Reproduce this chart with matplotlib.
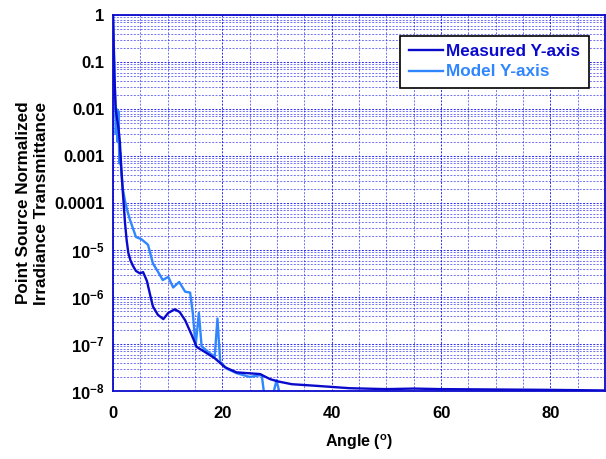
import matplotlib
matplotlib.use("Agg")
import matplotlib.pyplot as plt
import numpy as np
from matplotlib.ticker import FixedLocator, FixedFormatter, LogLocator

# --- data ---
meas_angle = [0, 0.25, 0.5, 0.75, 1.0, 1.25, 1.5, 1.75, 2.0, 2.2, 2.5, 2.8, 3.2, 3.7, 4.2,
              4.9, 5.5, 6.2, 6.8, 7.3, 8.2, 9.2, 10.1, 11.3, 12.2, 13.2, 14.4, 15.3,
              16.8, 18.6, 20.5, 22.6, 24.7, 26.9, 28.7, 30.2, 32.7, 37.3, 43.3, 50,
              55, 60, 70, 80, 90]
meas_val = [1, 0.05, 0.01, 0.006, 0.004, 0.002, 6e-4, 2e-4, 8e-5, 3.7e-5, 1.6e-5, 8.7e-6,
            6e-6, 4.5e-6, 3.6e-6, 3.2e-6, 3.4e-6, 2.2e-6, 1.1e-6, 6.3e-7, 4.2e-7, 3.4e-7,
            4.6e-7, 5.5e-7, 4.8e-7, 3.2e-7, 1.55e-7, 8.7e-8, 6.8e-8, 5.0e-8, 3.2e-8,
            2.5e-8, 2.4e-8, 2.3e-8, 1.8e-8, 1.6e-8, 1.4e-8, 1.29e-8, 1.15e-8, 1.1e-8,
            1.13e-8, 1.1e-8, 1.08e-8, 1.06e-8, 1.03e-8]

model_angle = [0, 0.3, 0.5, 0.7, 0.85, 1.0, 1.15, 1.3, 1.5, 1.8, 2.2, 2.6, 3.1, 3.6, 4.2,
               5.2, 6.4, 7.3, 8.2, 9.1, 10.1, 11.0, 12.1, 13.2, 14.1, 14.6, 15.1, 15.7,
               16.2, 17.4, 18.6, 19.1, 19.6, 20.8, 22.6, 25.0, 27.2, 27.9, 28.8, 29.9,
               31.0, 35, 45, 60, 75, 90]
model_val = [1, 0.05, 0.003, 0.01, 0.002, 0.009, 7e-4, 0.0012, 5e-4, 2e-4, 1.1e-4, 7e-5,
             4.4e-5, 3e-5, 1.9e-5, 1.7e-5, 1.3e-5, 5.2e-6, 3.5e-6, 2.3e-6, 2.7e-6, 1.6e-6,
             2.1e-6, 1.3e-6, 1.25e-6, 4.5e-7, 9e-8, 4.6e-7, 9e-8, 6.8e-8, 5.4e-8, 3.5e-7,
             4.2e-8, 3.0e-8, 2.4e-8, 2.0e-8, 2.2e-8, 5e-9, 5e-9, 1.7e-8, 5e-9, 5e-9,
             5e-9, 5e-9, 5e-9, 5e-9]

y_ticks = [1, 0.1, 0.01, 0.001, 0.0001, 1e-5, 1e-6, 1e-7, 1e-8]
y_labels = ["1", "0.1", "0.01", "0.001", "0.0001",
            r"10$^{\mathbf{-5}}$", r"10$^{\mathbf{-6}}$", r"10$^{\mathbf{-7}}$", r"10$^{\mathbf{-8}}$"]
x_ticks = [0, 20, 40, 60, 80]

plt.rcParams["font.family"] = ["Liberation Sans", "DejaVu Sans"]
plt.rcParams["font.weight"] = "bold"
plt.rcParams["mathtext.fontset"] = "custom"
plt.rcParams["mathtext.rm"] = "Liberation Sans:bold"
plt.rcParams["mathtext.bf"] = "Liberation Sans:bold"
plt.rcParams["mathtext.default"] = "bf"

dark = "#0a0acc"
light = "#2f86ff"
grid_c = "#1515ee"

fig = plt.figure(figsize=(6.06, 4.59), dpi=100)
ax = fig.add_axes([0.1865, 0.148, 0.812, 0.819])

ax.plot(meas_angle, meas_val, color=dark, lw=1.7, label="Measured Y-axis", zorder=3)
ax.plot(model_angle, model_val, color=light, lw=1.7, label="Model Y-axis", zorder=2)

ax.set_yscale("log")
ax.set_ylim(1e-8, 1)
ax.set_xlim(0, 90)
ax.yaxis.set_major_locator(FixedLocator(y_ticks))
ax.yaxis.set_major_formatter(FixedFormatter(y_labels))
ax.yaxis.set_minor_locator(LogLocator(base=10, subs=np.arange(2, 10)))
ax.set_xticks(x_ticks)
ax.set_xticks(np.arange(5, 90, 5), minor=True)

ax.grid(True, which="major", axis="both", color=grid_c, linestyle=(0, (2, 1.5)), lw=0.7, alpha=0.9)
ax.grid(True, which="minor", axis="both", color=grid_c, linestyle=(0, (2, 1.5)), lw=0.7, alpha=0.6)
ax.tick_params(which="both", length=0, labelsize=12)
ax.tick_params(axis="x", pad=11)
ax.tick_params(axis="y", pad=6)
for lab in ax.get_xticklabels() + ax.get_yticklabels():
    lab.set_fontweight("bold")

for sp in ax.spines.values():
    sp.set_color(dark)
    sp.set_linewidth(1.3)

ax.set_xlabel(r"Angle ($^{\mathbf{o}}$)", fontsize=11.5, fontweight="bold", labelpad=8)
ax.set_ylabel("Point Source Normalized\nIrradiance Transmittance", fontsize=12.3,
              fontweight="bold", labelpad=4, linespacing=1.25)

leg = ax.legend(loc="upper right", bbox_to_anchor=(0.967, 0.945), fancybox=False,
                framealpha=1, edgecolor="black", prop={"weight": "bold", "size": 12.3},
                handlelength=2.0, borderpad=0.5, labelspacing=0.3, handletextpad=0.2,
                borderaxespad=0)
leg.get_frame().set_linewidth(1.2)
for txt, c in zip(leg.get_texts(), [dark, light]):
    txt.set_color(c)

fig.savefig("out.png", dpi=100)
